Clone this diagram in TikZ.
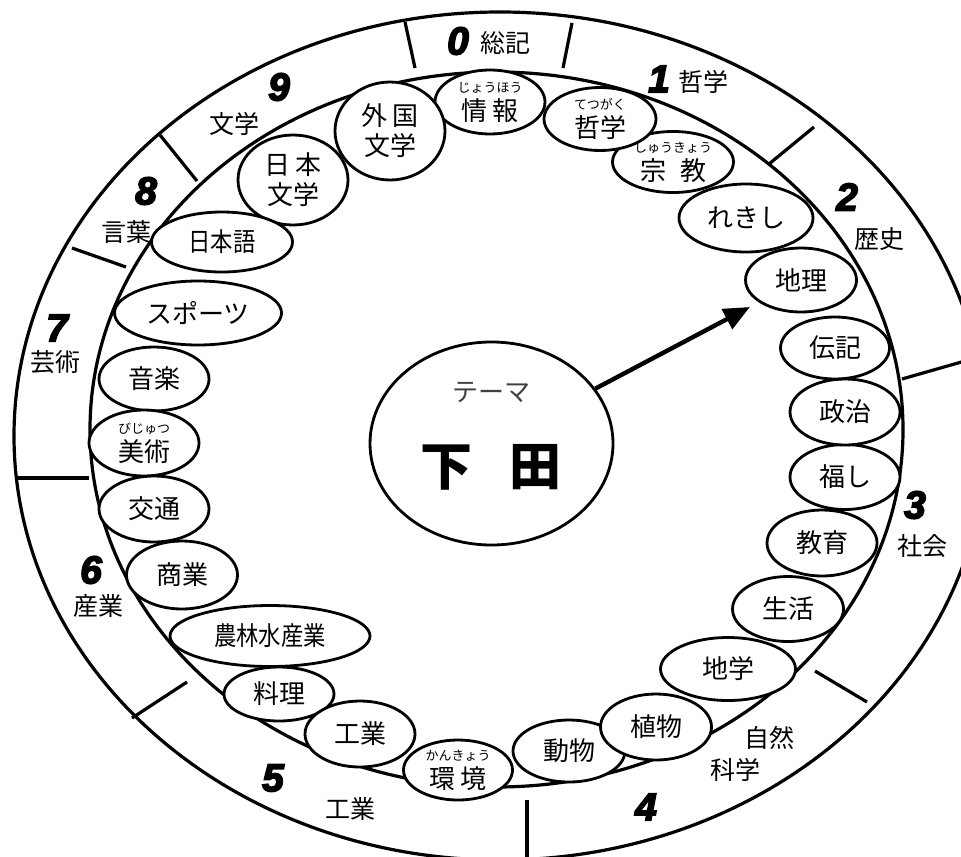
\documentclass[tikz,border=0pt]{standalone}
\usepackage{fontspec}
\setmainfont{Noto Sans CJK JP}
\newfontfamily\numfont{Liberation Sans}[BoldItalicFeatures={FakeBold=4}]
\newfontfamily\narrowjp{Noto Sans CJK JP}[FakeStretch=0.86]
\usetikzlibrary{shapes.geometric,arrows.meta}

\newcommand{\rubi}[2]{{\fontsize{6.5pt}{7pt}\selectfont #1}\\[-1pt]#2}

\begin{document}
\begin{tikzpicture}[x=0.5pt,y=-0.5pt,
 ring/.style={line width=1.6pt},
 bub/.style 2 args={ellipse,draw,fill=white,line width=1.4pt,inner sep=0pt,minimum width=#1*0.5pt,minimum height=#2*0.5pt,align=center,font=\fontsize{13pt}{15pt}\selectfont},
 lbl/.style={inner sep=0pt,font=\fontsize{12.5pt}{14pt}\selectfont},
 num/.style={inner sep=0pt,font=\numfont\fontsize{19.5pt}{20pt}\selectfont\bfseries\itshape}]
\useasboundingbox (0,0) rectangle (961,856);
\clip (0,0) rectangle (961,856);
% the two rings and the ten dividers
\draw[ring] (500,436) ellipse [x radius=486,y radius=424];
\draw[ring] (496.5,429.5) ellipse [x radius=406.5,y radius=357.5];
\foreach \xa/\ya/\xb/\yb in %
{415/68/405/22,563/68/572/23,769/164/814/127,902/379/965/361,815/671/867/702,
 527/800/527/860,187/682/132/718,89/478/16/478,126/267/72/248,197/181/160/135} {
   \draw[ring] (\xa,\ya) -- (\xb,\yb);
}
% topics
\foreach \n/\x/\y/\bw/\bh/\txt in %
{joho/490/102/110/64/{\rubi{じょうほう}{情 報}},
 gaikoku/390/131/110/98/{外 国\\文学},
 nihonbun/293/180/110/90/{日 本\\文学},
 nihongo/222/242/141/60/{\narrowjp 日本語},
 sports/198/313/167/64/{スポーツ},
 ongaku/154/379/110/64/{音楽},
 bijutsu/144/443/110/66/{\rubi{びじゅつ}{美術}},
 kotsu/154/509/110/66/{交通},
 shogyo/182/575/111/68/{商業},
 norin/270/636/200/61/{\narrowjp 農林水産業},
 ryori/279/694/110/54/{料理},
 kogyo/360/734/110/66/{工業},
 kankyo/458/770/109/60/{\rubi{かんきょう}{環 境}},
 dobutsu/569/751/112/62/{動物},
 shokubutsu/656/727/111/66/{植物},
 chigaku/728/669/135/63/{地学},
 seikatsu/788/609/111/65/{生活},
 kyoiku/822/543/110/66/{教育},
 fukushi/845/477/110/65/{福し},
 seiji/845/412/110/66/{政治},
 denki/835/348/109/62/{伝記},
 chiri/801/280/111/64/{地理},
 rekishi/746/218/134/68/{れきし},
 shukyo/673/162/121/61/{\rubi{しゅうきょう}{宗\hspace{7pt}教}},
 tetsugaku/600/119/112/63/{\rubi{てつがく}{哲学}}} {
   \node[bub={\bw}{\bh}] (\n) at (\x,\y) {\txt};
}
% theme
\node[ellipse,draw,line width=1.4pt,minimum width=243*0.5pt,minimum height=203*0.5pt] (theme) at (491.5,443.5) {};
\node[font=\fontsize{13pt}{13pt}\selectfont,text=black!75] (themelbl) at (491,392) {テーマ};
\node[font=\fontsize{26pt}{26pt}\selectfont\bfseries] (place) at (491,467) {下\hspace{19pt}田};
\draw[line width=2.2pt,-{Triangle[length=13pt,width=11pt]},shorten >=5pt] (theme) -- (chiri);
% classes
\foreach \n/\x/\y/\txt in %
{d0/458/41/0,d1/659/79/1,d2/847/197/2,d3/915/505/3,d4/646/807/4,
 d5/273/778/5,d6/91/570/6,d7/57/328/7,d8/146/191/8,d9/279/87/9} {
   \node[num] (\n) at (\x,\y) {\txt};
}
\foreach \n/\x/\y/\txt in %
{sokki/505/43/総記,tetsu/703/82/哲学,rekishi2/879/239/歴史,shakai/922/546/社会,
 shizen/769/738/自然,kagaku/735/770/科学,kogyo2/350/809/工業,sangyo/98/606/産業,
 geijutsu/55/362/芸術,kotoba/126/232/言葉,bungaku/234/124/文学} {
   \node[lbl] (\n) at (\x,\y) {\txt};
}
\end{tikzpicture}
\end{document}
